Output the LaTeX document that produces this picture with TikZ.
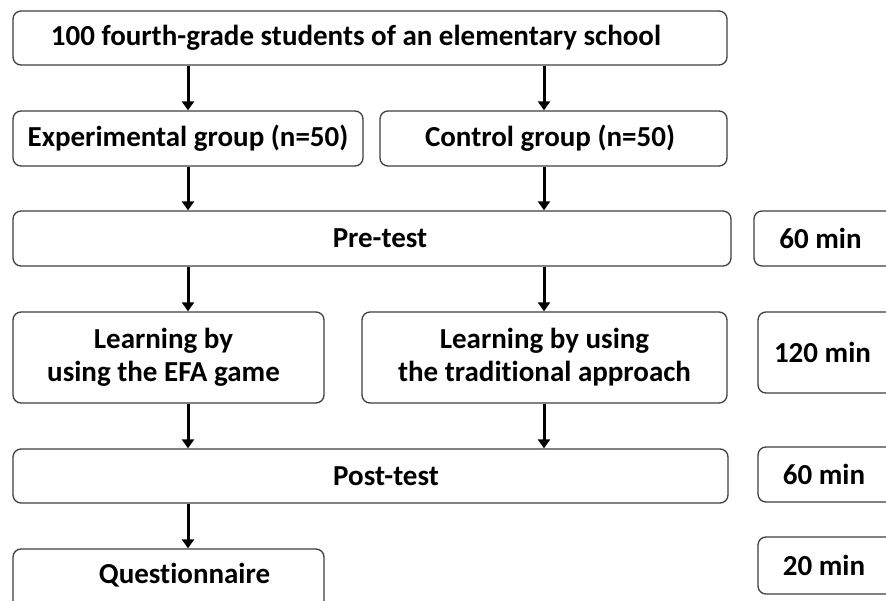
\documentclass[tikz,border=0pt]{standalone}
\usepackage{fontspec}
\setmainfont{Carlito}[Ligatures=NoCommon]
\usetikzlibrary{arrows.meta}
\begin{document}
\begin{tikzpicture}[x=1pt,y=-1pt,
  box/.style={draw=black!75, line width=1.3pt, rounded corners=8pt, fill=white,
    font=\bfseries\fontsize{29}{33}\selectfont, align=center, inner sep=0pt, anchor=center},
  arr/.style={line width=3pt, -{Triangle[width=12pt,length=9pt]}, black}]
\useasboundingbox (0,0) rectangle (886,601);
\clip (0,0) rectangle (886,601);
\fill[white] (0,0) rectangle (886,601);
% main column
\node[box, minimum width=714pt, minimum height=54pt] (top) at (370,38) {100 fourth-grade students of an elementary school\hspace*{28pt}};
\node[box, minimum width=350pt, minimum height=55pt] (exp) at (188,138.5) {Experimental group (n=50)};
\node[box, minimum width=347pt, minimum height=55pt] (ctl) at (553.5,138.5) {Control group (n=50)\hspace*{7pt}};
\node[box, minimum width=718pt, minimum height=55pt] (pre) at (372,238.5) {\hspace*{16pt}Pre-test};
\node[box, minimum width=311pt, minimum height=91pt] (le) at (168.5,357.5) {Learning by\hspace*{10pt}\\using the EFA game\hspace*{10pt}};
\node[box, minimum width=365pt, minimum height=91pt] (lt) at (544.5,357.5) {Learning by using\\the traditional approach};
\node[box, minimum width=715pt, minimum height=54pt] (post) at (370.5,476) {\hspace*{31pt}Post-test};
\node[box, minimum width=311pt, minimum height=62pt, text depth=14pt] (que) at (168.5,580) {\hspace*{32pt}Questionnaire};
% time column
\node[box, minimum width=140pt, minimum height=55pt] (t1) at (824,238.5) {60 min\hspace*{7pt}};
\node[box, minimum width=136pt, minimum height=81pt] (t2) at (826,352.5) {120 min\hspace*{7pt}};
\node[box, minimum width=136pt, minimum height=55pt] (t3) at (826,474.5) {60 min\hspace*{4pt}};
\node[box, minimum width=136pt, minimum height=57pt] (t4) at (826,565.5) {20 min\hspace*{4pt}};
% arrows
\coordinate (ax) at (188,0);
\coordinate (bx) at (544,0);
\draw[arr] (top.south -| ax) -- (exp.north -| ax);
\draw[arr] (top.south -| bx) -- (ctl.north -| bx);
\draw[arr] (exp.south -| ax) -- (pre.north -| ax);
\draw[arr] (ctl.south -| bx) -- (pre.north -| bx);
\draw[arr] (pre.south -| ax) -- (le.north -| ax);
\draw[arr] (pre.south -| bx) -- (lt.north -| bx);
\draw[arr] (le.south -| ax) -- (post.north -| ax);
\draw[arr] (lt.south -| bx) -- (post.north -| bx);
\draw[arr] (post.south -| ax) -- (que.north -| ax);
\end{tikzpicture}
\end{document}
